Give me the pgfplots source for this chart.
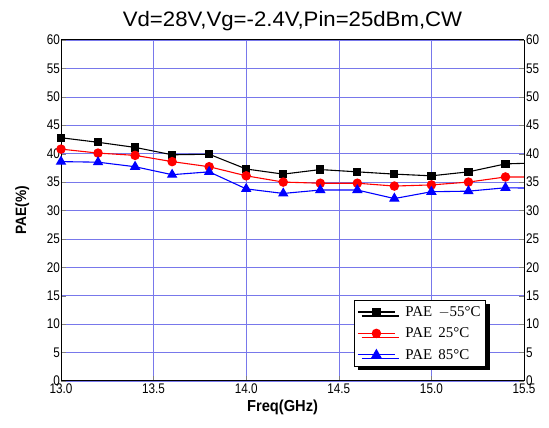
\documentclass[border=0pt]{standalone}
\usepackage{fontspec}
\setmainfont{Liberation Sans}
\newfontfamily\condfont[FakeStretch=0.84]{Liberation Sans}
\newfontfamily\labfont[FakeStretch=0.92]{Liberation Sans}
\newfontfamily\titlefont[FakeStretch=1.06]{Liberation Sans}
\newfontfamily\legfont{Liberation Serif}
\usepackage{pgfplots}
\pgfplotsset{compat=1.18}
\usetikzlibrary{shadows}
\definecolor{gridblue}{RGB}{120,120,235}

\begin{document}
\begin{tikzpicture}
\begin{axis}[
    name=ax,
    scale only axis,
    width=463bp, height=341bp,
    xmin=13.0, xmax=15.5,
    ymin=0, ymax=60,
    xtick={13.0,13.5,...,15.5},
    ytick={0,5,...,60},
    /pgf/number format/assume math mode=true,
    tick label style={font=\condfont\fontsize{14}{14}\selectfont},
    yticklabel style={inner xsep=1pt, inner ysep=0pt},
    xticklabel shift=3pt,
    xticklabel style={inner ysep=0pt,
      /pgf/number format/.cd, fixed, fixed zerofill, precision=1},
    axis y line*=left,
    grid=major,
    grid style={gridblue, line width=0.6pt},
    tick align=inside,
    major tick length=5pt,
    xtick pos=bottom,
    axis line style={line width=1pt},
    title={\titlefont\fontsize{21}{21}\selectfont Vd=28V,Vg=-2.4V,Pin=25dBm,CW},
    title style={yshift=0pt},
    xlabel={\labfont\bfseries\fontsize{16}{16}\selectfont Freq(GHz)},
    ylabel={\labfont\bfseries\fontsize{15}{15}\selectfont PAE(\%)},
    xlabel style={yshift=-2pt, xshift=-10pt},
    ylabel style={yshift=13pt},
    legend cell align=left,
    legend style={at={(0.633,0.2375)}, anchor=north west, draw=black,
      line width=0.6pt, fill=white,
      drop shadow={shadow xshift=4pt, shadow yshift=-4pt, fill=black, opacity=1},
      font=\legfont\fontsize{15}{17}\selectfont, row sep=6pt,
      inner xsep=3pt, inner ysep=4pt,
      /tikz/every odd column/.append style={column sep=8pt}},
    legend image code/.code={
      \draw[#1] (0pt,0pt) -- (37bp,0pt);
      \draw[#1, only marks] plot coordinates {(18.5bp,0pt)};
    },
  ]
  \addplot[black, line width=1.1pt, mark=square*, mark size=3.6pt] coordinates {
    (13.0,42.8)(13.2,42.0)(13.4,41.1)(13.6,39.8)(13.8,39.9)(14.0,37.3)(14.2,36.4)
    (14.4,37.2)(14.6,36.8)(14.8,36.4)(15.0,36.1)(15.2,36.8)(15.4,38.2)(15.6,38.4)
  }; \addlegendentry{PAE \,$-$55\textdegree C}
  \addplot[red, line width=1.1pt, mark=*, mark size=4.2pt] coordinates {
    (13.0,40.8)(13.2,40.1)(13.4,39.7)(13.6,38.6)(13.8,37.7)(14.0,36.1)(14.2,35.0)
    (14.4,34.8)(14.6,34.8)(14.8,34.3)(15.0,34.5)(15.2,35.0)(15.4,35.9)(15.6,35.9)
  }; \addlegendentry{PAE \,25\textdegree C}
  \addplot[blue, line width=1.1pt, mark=triangle*, mark size=5pt] coordinates {
    (13.0,38.6)(13.2,38.5)(13.4,37.7)(13.6,36.3)(13.8,36.8)(14.0,33.8)(14.2,33.0)
    (14.4,33.6)(14.6,33.6)(14.8,32.1)(15.0,33.3)(15.2,33.4)(15.4,34.0)(15.6,33.9)
  }; \addlegendentry{PAE \,85\textdegree C}
\end{axis}
\begin{axis}[
    scale only axis,
    width=463bp, height=341bp,
    at={(ax.south west)}, anchor=south west,
    xmin=13.0, xmax=15.5,
    ymin=0, ymax=60,
    ytick={0,5,...,60},
    axis x line=none,
    axis y line*=right,
    tick align=inside,
    major tick length=5pt,
    axis line style={line width=1pt},
    /pgf/number format/assume math mode=true,
    tick label style={font=\condfont\fontsize{14}{14}\selectfont},
    yticklabel style={inner xsep=2pt, inner ysep=0pt},
  ]
  \addplot[draw=none] coordinates {(13,0)};
\end{axis}
\path ([shift={(-61bp,-47bp)}]ax.south west) rectangle ([shift={(25bp,40bp)}]ax.north east);
\end{tikzpicture}
\end{document}
